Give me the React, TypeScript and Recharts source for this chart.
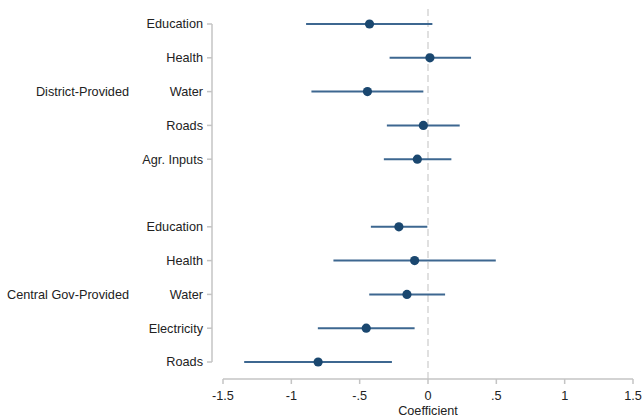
import React from 'react';
import {
  ScatterChart,
  Scatter,
  XAxis,
  YAxis,
  ErrorBar,
  ReferenceLine,
} from 'recharts';

// Coefficient estimates with 95% confidence bounds, by provider group.
const districtLabels = ['Education', 'Health', 'Water', 'Roads', 'Agr. Inputs'];
const districtCoef = [-0.428, 0.014, -0.443, -0.034, -0.078];
const districtLow = [-0.892, -0.281, -0.853, -0.301, -0.323];
const districtHigh = [0.032, 0.315, -0.034, 0.232, 0.171];

const centralLabels = ['Education', 'Health', 'Water', 'Electricity', 'Roads'];
const centralCoef = [-0.213, -0.098, -0.154, -0.452, -0.804];
const centralLow = [-0.418, -0.692, -0.43, -0.806, -1.345];
const centralHigh = [-0.005, 0.496, 0.125, -0.098, -0.264];

const groupNames = ['District-Provided', 'Central Gov-Provided'];
const xTicks = [-1.5, -1, -0.5, 0, 0.5, 1, 1.5];

// Layout constants
const WIDTH = 644;
const HEIGHT = 418;
const Y_AXIS_WIDTH = 223;
const MARGIN = { top: 8, right: 11, bottom: 0, left: 0 };
const X_MIN = -1.5;
const X_MAX = 1.5;
const AXIS_GAP = 11; // y-axis line sits this far left of the plot area
const AXIS_LINE_X = Y_AXIS_WIDTH - AXIS_GAP;
const PLOT_WIDTH = WIDTH - Y_AXIS_WIDTH - MARGIN.right;
const AXIS_LINE_VALUE = X_MIN - (AXIS_GAP * (X_MAX - X_MIN)) / PLOT_WIDTH;

const MARKER = '#1a476f';
const BAR = '#3d6790';
const AXIS = '#c4c4c4';
const TEXT = '#222222';
const FONT = '"Liberation Sans", Arial, sans-serif';
const FONT_SIZE = 12.7;

type Row = { slot: number; label: string; coef: number; err: [number, number] };

// Each group takes consecutive slots, with one empty slot between groups.
const groups = [
  { labels: districtLabels, coef: districtCoef, low: districtLow, high: districtHigh },
  { labels: centralLabels, coef: centralCoef, low: centralLow, high: centralHigh },
];

const rows: Row[] = [];
const groupMidSlot: Record<number, string> = {};
let nextSlot = 0;
groups.forEach((g, gi) => {
  groupMidSlot[nextSlot + Math.floor(g.labels.length / 2)] = groupNames[gi];
  g.labels.forEach((label, i) => {
    rows.push({
      slot: nextSlot + i,
      label,
      coef: g.coef[i],
      err: [g.coef[i] - g.low[i], g.high[i] - g.coef[i]],
    });
  });
  nextSlot += g.labels.length + 1;
});
const maxSlot = nextSlot - 2;
const slotLabel: Record<number, string> = {};
rows.forEach((r) => (slotLabel[r.slot] = r.label));

const formatX = (v: number) => (v === 0 ? '0' : String(v).replace('0.', '.'));

const YTick = (props: any) => {
  const { y, payload } = props;
  const slot = payload.value as number;
  const group = groupMidSlot[slot];
  return (
    <g>
      <line x1={AXIS_LINE_X - 5} x2={AXIS_LINE_X} y1={y} y2={y} stroke={AXIS} strokeWidth={1.5} />
      <text
        x={AXIS_LINE_X - 9}
        y={y}
        dy="0.35em"
        textAnchor="end"
        fill={TEXT}
        fontSize={FONT_SIZE}
        fontFamily={FONT}
      >
        {slotLabel[slot]}
      </text>
      {group && (
        <text
          x={129}
          y={y}
          dy="0.35em"
          textAnchor="end"
          fill={TEXT}
          fontSize={FONT_SIZE}
          fontFamily={FONT}
        >
          {group}
        </text>
      )}
    </g>
  );
};

const Dot = (props: any) => <circle cx={props.cx} cy={props.cy} r={4.6} fill={MARKER} />;

export default function App() {
  return (
    <div style={{ position: 'absolute', left: 0, top: 0, background: '#fff' }}>
      <ScatterChart width={WIDTH} height={HEIGHT} margin={MARGIN}>
        <XAxis
          type="number"
          dataKey="coef"
          domain={[X_MIN, X_MAX]}
          ticks={xTicks}
          tickFormatter={formatX}
          height={39}
          axisLine={{ stroke: AXIS, strokeWidth: 1.5 }}
          tickLine={{ stroke: AXIS, strokeWidth: 1.5 }}
          tickSize={5}
          tickMargin={7}
          tick={{ fill: TEXT, fontSize: FONT_SIZE, fontFamily: FONT }}
          label={{
            value: 'Coefficient',
            position: 'insideBottom',
            offset: 3,
            fill: TEXT,
            fontSize: FONT_SIZE,
            fontFamily: FONT,
          }}
          allowDataOverflow
        />
        <YAxis
          type="number"
          dataKey="slot"
          domain={[0, maxSlot]}
          reversed
          ticks={rows.map((r) => r.slot)}
          interval={0}
          width={Y_AXIS_WIDTH}
          padding={{ top: 16, bottom: 17 }}
          axisLine={false}
          tickLine={false}
          tick={<YTick />}
        />
        <ReferenceLine x={0} stroke="#d6d6d6" strokeWidth={1.5} strokeDasharray="7 4" />
        <ReferenceLine
          segment={[
            { x: AXIS_LINE_VALUE, y: 0 },
            { x: AXIS_LINE_VALUE, y: maxSlot },
          ]}
          stroke={AXIS}
          strokeWidth={1.5}
          ifOverflow="visible"
        />
        <Scatter data={rows} shape={<Dot />} isAnimationActive={false}>
          <ErrorBar dataKey="err" direction="x" width={0} stroke={BAR} strokeWidth={2} />
        </Scatter>
      </ScatterChart>
    </div>
  );
}
